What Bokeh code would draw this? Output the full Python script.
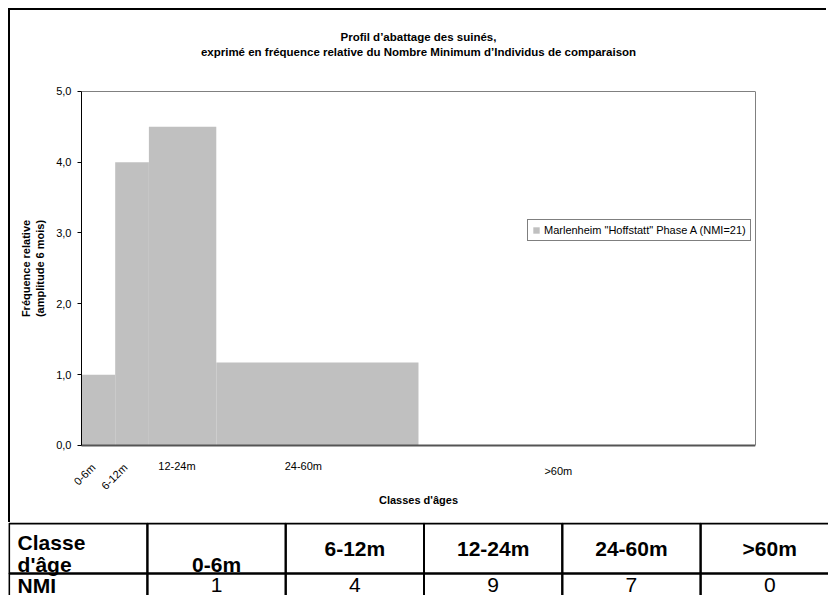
import math
from bokeh.plotting import figure
from bokeh.models import Range1d, FixedTicker, LinearAxis
from bokeh.embed import file_html
from bokeh.resources import INLINE
from bokeh.core.properties import value

# ---------------- data ----------------
classes = ["0-6m", "6-12m", "12-24m", "24-60m", ">60m"]
age_start = [0, 6, 12, 24, 60]          # months
age_end = [6, 12, 24, 60, 120]          # months
freq_rel = [1.0, 4.0, 4.5, 1.17, 0.0]   # relative frequency (amplitude 6 months)
nmi = [1, 4, 9, 7, 0]
y_ticks = [0, 1, 2, 3, 4, 5]
y_tick_labels = ["0,0", "1,0", "2,0", "3,0", "4,0", "5,0"]
series_name = 'Marlenheim "Hoffstatt" Phase A (NMI=21)'
title_lines = ["Profil d\u2019abattage des suin\u00e9s,",
               "exprim\u00e9 en fr\u00e9quence relative du Nombre Minimum d\u2019Individus de comparaison"]
x_title = "Classes d'\u00e2ges"
table_head = ["Classe", "d'\u00e2ge"]
table_row = "NMI"

# where the class labels sit along the age axis (months) and how they are drawn
label_pos = [2.1, 7.8, 17.0, 39.5, 84.9]
label_angle = [math.pi / 4, math.pi / 4, 0, 0, 0]
label_align = ["right", "right", "center", "center", "center"]
label_dy = [20, 20, 21, 21, 26]

FONT = "Liberation Sans"
GRAY = "#c0c0c0"
X_MIN, X_MAX = 0, 120
X_LOW = -12.639                  # room left of the age scale for the value axis
Y_LOW, Y_HIGH = -1.1153, 6.0     # room under/over the 0..5 scale for labels and titles

# ---------------- chart ----------------
p = figure(width=818, height=514, x_range=Range1d(X_LOW, X_MAX), y_range=Range1d(Y_LOW, Y_HIGH),
           output_backend="svg", toolbar_location=None,
           min_border_left=0, min_border_right=73, min_border_top=10, min_border_bottom=0)
p.margin = (8, 0, 0, 8)
p.styles = {"border-left": "2px solid black", "border-top": "2px solid black"}
p.grid.visible = False
p.outline_line_color = None
p.background_fill_color = "white"
p.border_fill_color = "white"

# default x axis is replaced by the category line axis below
p.below[0].visible = False

# default y axis: value axis placed at age 0
ya = p.left[0]
ya.fixed_location = 0
ya.bounds = (min(y_ticks), max(y_ticks))
ya.ticker = FixedTicker(ticks=y_ticks)
ya.major_label_overrides = {t: l for t, l in zip(y_ticks, y_tick_labels)}
ya.minor_tick_line_color = None
ya.major_tick_in = 0
ya.major_tick_out = 4
ya.major_label_standoff = 6
ya.axis_line_color = "black"
ya.major_tick_line_color = "black"
ya.major_label_text_font = FONT
ya.major_label_text_font_size = "11px"
ya.major_label_text_color = "black"
ya.axis_label = "Fr\u00e9quence relative\n(amplitude 6 mois)"
ya.axis_label_text_font = FONT
ya.axis_label_text_font_size = "11px"
ya.axis_label_text_font_style = "bold"
ya.axis_label_text_color = "black"
ya.axis_label_standoff = 7

p.quad(left=age_start, right=age_end, bottom=0, top=freq_rel,
       fill_color=GRAY, line_color=None, legend_label=series_name)


def line_axis(loc, side, color, width):
    ax = LinearAxis(fixed_location=loc, bounds=(X_MIN, X_MAX), ticker=FixedTicker(ticks=[]),
                    axis_line_color=color, axis_line_width=width,
                    major_tick_line_color=None, minor_tick_line_color=None,
                    major_label_text_font_size="0px",
                    major_tick_out=0, major_tick_in=0, minor_tick_out=0, minor_tick_in=0)
    p.add_layout(ax, side)


# plot-area top border and the category axis line
line_axis(max(y_ticks), "above", "#808080", 1)
line_axis(0, "below", "#555555", 2)
right_ax = LinearAxis(bounds=(min(y_ticks), max(y_ticks)), ticker=FixedTicker(ticks=[]),
                      axis_line_color="#808080", major_tick_line_color=None,
                      minor_tick_line_color=None, major_tick_out=0, minor_tick_out=0,
                      major_label_text_font_size="0px")
p.add_layout(right_ax, "right")

# category labels under the axis line
for lab, lx, ang, al, dy in zip(classes, label_pos, label_angle, label_align, label_dy):
    p.text(x=[lx], y=[0], text=[lab], angle=ang, text_align=al, text_baseline="middle",
           y_offset=dy, text_font=value(FONT), text_font_size="11px", text_color="black")

# x axis title, centred under the plot area
p.text(x=[(X_MIN + X_MAX) / 2], y=[0], text=[x_title], text_align="center",
       text_baseline="middle", y_offset=55, text_font=value(FONT), text_font_size="11px",
       text_font_style="bold", text_color="black")

# chart title (two centred lines above the plot area)
for line, dy in zip(title_lines, [-54, -39]):
    p.text(x=[(X_MIN + X_MAX) / 2], y=[max(y_ticks)], text=[line], text_align="center",
           text_baseline="middle", y_offset=dy, text_font=value(FONT), text_font_size="11.5px",
           text_font_style="bold", text_color="black")

# legend
lg = p.legend[0]
lg.location = (517, 283)
lg.label_text_font = FONT
lg.label_text_font_size = "11px"
lg.label_text_color = "black"
lg.glyph_width = 8
lg.glyph_height = 8
lg.label_standoff = 4
lg.label_height = 12
lg.padding = 4
lg.margin = 0
lg.spacing = 0
lg.border_line_color = "black"
lg.border_line_width = 1
lg.background_fill_alpha = 1

# ---------------- table ----------------
col_w = 138.3
ncols = len(classes) + 1
x0 = -0.6 / col_w
t = figure(width=820, height=73, x_range=Range1d(x0, x0 + 820 / col_w),
           y_range=Range1d(72, -1), output_backend="svg", toolbar_location=None,
           x_axis_location=None, y_axis_location=None, min_border=0)
t.margin = (0, 0, 0, 8)
t.grid.visible = False
t.outline_line_color = None

hdr_top, hdr_bot, row_bot = 0, 50, 80
lefts = list(range(ncols)) * 2
rights = [c + 1 for c in range(ncols)] * 2
tops = [hdr_top] * ncols + [hdr_bot] * ncols
bots = [hdr_bot] * ncols + [row_bot] * ncols
t.quad(left=lefts, right=rights, top=tops, bottom=bots,
       fill_color=None, line_color="black", line_width=2)

pad = 8.5 / col_w
TFS = "21px"
t.text(x=[pad, pad], y=[19, 40.5], text=table_head, text_align="left", text_baseline="alphabetic",
       text_font=value(FONT), text_font_size=TFS, text_font_style="bold", text_color="black")
t.text(x=[pad], y=[61.5], text=[table_row], text_align="left", text_baseline="middle",
       text_font=value(FONT), text_font_size=TFS, text_font_style="bold", text_color="black")
for i, (c, n) in enumerate(zip(classes, nmi)):
    cx = i + 1.5
    if i == 0:
        t.text(x=[cx], y=[40.5], text=[c], text_align="center", text_baseline="alphabetic",
               text_font=value(FONT), text_font_size=TFS, text_font_style="bold",
               text_color="black")
    else:
        t.text(x=[cx], y=[25], text=[c], text_align="center", text_baseline="middle",
               text_font=value(FONT), text_font_size=TFS, text_font_style="bold",
               text_color="black")
    t.text(x=[cx], y=[61.5], text=[str(n)], text_align="center", text_baseline="middle",
           text_font=value(FONT), text_font_size=TFS, text_color="black")

open("out.html", "w").write(file_html([p, t], INLINE))
